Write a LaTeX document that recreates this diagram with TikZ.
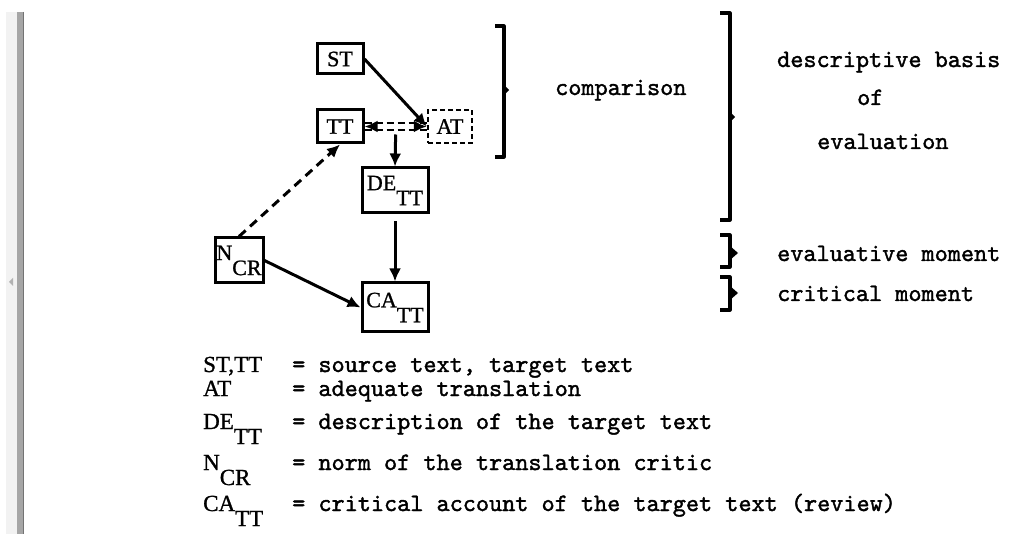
\documentclass[tikz,border=0pt]{standalone}
\usepackage{fontspec}
\setmonofont{lmmono10-regular.otf}[FakeBold=1.5]
\newfontfamily\abf{Liberation Serif}[FakeBold=1]
\usetikzlibrary{arrows.meta,calc}
\tikzset{
  box/.style={draw, line width=3pt, inner sep=0pt, font=\abf\fontsize{22}{26}\selectfont},
  dbox/.style={box, dash pattern=on 5pt off 3pt, line width=2.4pt},
  conn/.style={line width=3pt, -{Latex[length=13pt,width=12pt]}},
  dconn/.style={conn, dash pattern=on 9pt off 6pt},
  dline/.style={line width=2.4pt, dash pattern=on 7pt off 4pt},
  brk/.style={line width=3.2pt, line join=round},
  word/.style={font=\ttfamily\fontsize{25}{30}\selectfont, inner sep=0pt, anchor=base west},
  abbr/.style={font=\abf\fontsize{23}{27}\selectfont, inner sep=0pt, anchor=base west},
}
\begin{document}
\begin{tikzpicture}[x=1pt,y=-1pt]
\useasboundingbox[fill=white] (0,0) rectangle (1017,534);
% scrollbar strip at left
\fill[black!5] (6,12) rectangle (17,534);
\fill[black!35] (17,12) rectangle (23,534);
\draw[black!55, line width=1pt] (23,12) -- (23,534);
\fill[black!30] (13,278) -- (9,282) -- (13,286) -- cycle;

% boxes
\node[box, minimum width=46pt, minimum height=30pt] (ST) at (340,59) {ST};
\node[box, minimum width=46pt, minimum height=33pt] (TT) at (340,126.5) {TT};
\node[dbox, minimum width=44pt, minimum height=33pt] (AT) at (450,126.5) {AT};
\node[box, minimum width=66pt, minimum height=45pt] (DE) at (395,190.5) {DE\raisebox{-15pt}{TT}};
\node[box, minimum width=48pt, minimum height=45pt] (N) at (239,260.5) {N\raisebox{-15pt}{CR}};
\node[box, minimum width=66pt, minimum height=49pt] (CA) at (395,307.5) {CA\raisebox{-15pt}{TT}};

% connectors
\draw[conn] (ST.east) -- (AT.west);
\draw[dline] ([yshift=3.5pt]TT.east) -- ([yshift=3.5pt]AT.west);
\draw[dline] ([yshift=-3.5pt]TT.east) -- ([yshift=-3.5pt]AT.west);
\draw[conn] ($(TT.east)!0.2!(AT.west)$) -- (TT.east);
\draw[conn] ($(TT.east)!0.8!(AT.west)$) -- (AT.west);
\coordinate (m) at ($(TT.east)!0.5!(AT.west)+(0,8)$);
\draw[conn] (m) -- (DE.north);
\draw[conn, shorten <=7pt] (DE.south) -- (CA.north);
\draw[conn] (N.east) -- (CA.west);
\draw[dconn] (N.north) -- (TT.south);

% brackets
\draw[brk] (495,26) -- (504,26) -- (504,157) -- (495,157);
\fill (504,85) -- (509,90) -- (504,95) -- cycle;
\draw[brk] (720,13) -- (730,13) -- (730,220) -- (720,220);
\fill (730,112) -- (735,117) -- (730,122) -- cycle;
\draw[brk] (720,235) -- (730,235) -- (730,267) -- (720,267);
\fill (730,246) -- (738,253) -- (730,260) -- cycle;
\draw[brk] (720,277) -- (730,277) -- (730,310) -- (720,310);
\fill (730,286) -- (738,293) -- (730,300) -- cycle;

% labels
\node[word] (cmp) at (555,95) {comparison};
\node[word] (db) at (777,67) {descriptive basis};
\node[word] (of) at (857,105) {of};
\node[word] (ev) at (817,149) {evaluation};
\node[word] (em) at (777,261) {evaluative moment};
\node[word] (cm) at (777,301) {critical moment};

% legend
\node[abbr] (l1) at (203,372) {ST,TT};
\node[abbr] (l2) at (203,396) {AT};
\node[abbr] (l3) at (203,429) {DE\raisebox{-15pt}{TT}};
\node[abbr] (l4) at (203,470) {N\raisebox{-15pt}{CR}};
\node[abbr] (l5) at (203,511) {CA\raisebox{-15pt}{TT}};
\node[word] (d1) at (292,372) {= source text, target text};
\node[word] (d2) at (292,396) {= adequate translation};
\node[word] (d3) at (292,429) {= description of the target text};
\node[word] (d4) at (292,470) {= norm of the translation critic};
\node[word] (d5) at (292,511) {= critical account of the target text (review)};
\end{tikzpicture}
\end{document}
